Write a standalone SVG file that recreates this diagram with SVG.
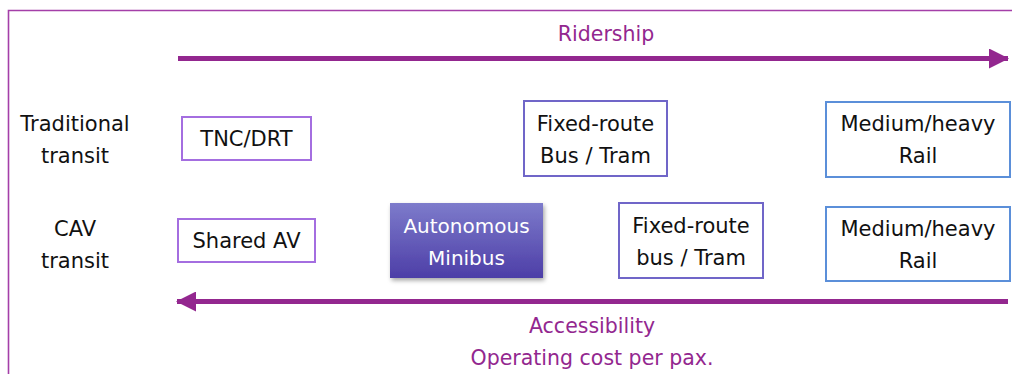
<svg xmlns="http://www.w3.org/2000/svg" width="1012" height="374" viewBox="0 0 1012 374">
<defs>
<linearGradient id="gMini" x1="0" y1="0" x2="0" y2="1">
<stop offset="0" stop-color="#7d7bcb"/>
<stop offset="1" stop-color="#4d3ea7"/>
</linearGradient>
<filter id="shadow" x="-10%" y="-10%" width="125%" height="130%">
<feDropShadow dx="1.5" dy="2.5" stdDeviation="2" flood-color="#000" flood-opacity="0.35"/>
</filter>
<marker id="arrowR" viewBox="0 0 20 20" refX="19" refY="10" markerWidth="20" markerHeight="20" markerUnits="userSpaceOnUse" orient="auto">
<path d="M0,0 L20,10 L0,20 Z" fill="#93278f"/>
</marker>
</defs>
<style>
.t{font-family:"DejaVu Sans",sans-serif;font-size:21px;fill:#111;text-anchor:middle}
.p{font-family:"DejaVu Sans",sans-serif;font-size:20.5px;fill:#93278f;text-anchor:middle}
.w{font-family:"DejaVu Sans",sans-serif;font-size:20px;fill:#fff;text-anchor:middle}
.violet{fill:#fff;stroke:#a46ee0;stroke-width:2}
.indigo{fill:#fff;stroke:#7066c8;stroke-width:2}
.blue{fill:#fff;stroke:#5b8fd9;stroke-width:2}
.arr{stroke:#93278f;stroke-width:5;fill:none}
</style>
<rect width="1012" height="374" fill="#fff"/>
<g id="frame">
<path d="M8.5,374 V10.5 H1012" fill="none" stroke="#a43fa8" stroke-width="1.6"/>
</g>
<g id="labels">
<text class="p" x="606" y="41">Ridership</text>
<text class="t" x="75" y="131">Traditional</text>
<text class="t" x="75" y="163">transit</text>
<text class="t" x="75" y="236">CAV</text>
<text class="t" x="75" y="268">transit</text>
<text class="p" x="592" y="333">Accessibility</text>
<text class="p" x="592" y="365">Operating cost per pax.</text>
</g>
<g id="connectors">
<line class="arr" x1="178" y1="58.5" x2="1008" y2="58.5" marker-end="url(#arrowR)"/>
<line class="arr" x1="1008" y1="301.5" x2="177" y2="301.5" marker-end="url(#arrowR)"/>
</g>
<g id="tnc">
<rect class="violet" x="182" y="117" width="129" height="43"/>
<text class="t" x="246.5" y="146">TNC/DRT</text>
</g>
<g id="sharedav">
<rect class="violet" x="178" y="219" width="137" height="43"/>
<text class="t" x="246.5" y="248">Shared AV</text>
</g>
<g id="fixedroute-trad">
<rect class="indigo" x="524" y="101" width="143" height="75"/>
<text class="t" x="595.5" y="131">Fixed-route</text>
<text class="t" x="595.5" y="163">Bus / Tram</text>
</g>
<g id="minibus">
<rect x="390" y="203" width="153" height="75" fill="url(#gMini)" filter="url(#shadow)"/>
<text class="w" x="466.5" y="233">Autonomous</text>
<text class="w" x="466.5" y="265">Minibus</text>
</g>
<g id="fixedroute-cav">
<rect class="indigo" x="619" y="203" width="144" height="75"/>
<text class="t" x="691" y="233">Fixed-route</text>
<text class="t" x="691" y="265">bus / Tram</text>
</g>
<g id="rail-trad">
<rect class="blue" x="826" y="102" width="184" height="75"/>
<text class="t" x="918" y="131">Medium/heavy</text>
<text class="t" x="918" y="163">Rail</text>
</g>
<g id="rail-cav">
<rect class="blue" x="826" y="207" width="184" height="74"/>
<text class="t" x="918" y="236">Medium/heavy</text>
<text class="t" x="918" y="268">Rail</text>
</g>
</svg>
